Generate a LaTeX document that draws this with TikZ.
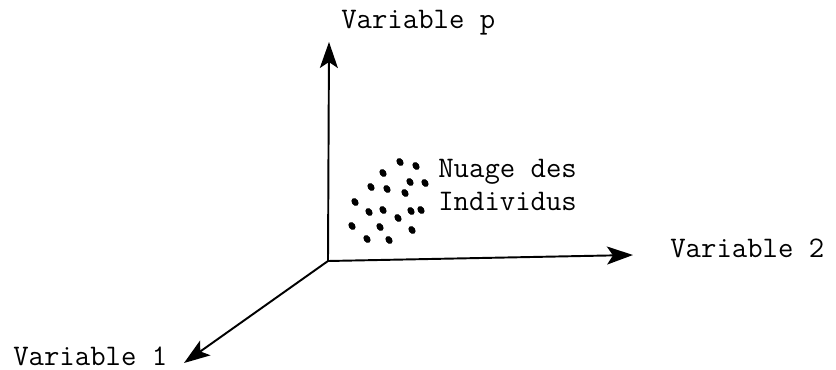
\documentclass[tikz,border=0pt]{standalone}
\usetikzlibrary{arrows.meta}
\tikzset{
  axis/.style   = {-{Stealth[length=5.2mm,width=3.6mm,inset=1.2mm]}, black,
                   line width=1.1pt},
  varlbl/.style = {font=\fontsize{17}{20}\selectfont\ttfamily, inner sep=0pt,
                   anchor=base west},
  grain/.style  = {fill=black},
}
\begin{document}
\begin{tikzpicture}[x=0.02cm, y=-0.02cm]
  \useasboundingbox (0,0) rectangle (836,369);

  %% ---------------- axes -------------------------------------------
  \coordinate (orig) at (328,261);
  \coordinate (tipP) at (329,42);
  \coordinate (tip2) at (633,255);
  \coordinate (tip1) at (184,363);
  \draw[axis] (orig) -- (tipP);
  \draw[axis] (orig) -- (tip2);
  \draw[axis] (orig) -- (tip1);

  %% ---------------- labels -----------------------------------------
  \node[varlbl] (varP) at (341,28)  {Variable p};
  \node[varlbl] (var2) at (670,257) {Variable 2};
  \node[varlbl] (var1) at (13,365)  {Variable 1};
  \node[varlbl] (nuage)  at (438,177) {Nuage des};
  \node[varlbl] (indiv)  at (438,210) {Individus};

  %% ---------------- cloud of individuals ---------------------------
  \foreach \x/\y in {400/162, 416/166, 383/173, 410/182, 425/183,
                     371/187, 387/189, 405/193, 355/202, 369/212,
                     383/210, 398/218, 411/211, 421/210, 352/226,
                     380/227, 412/230, 367/239, 389/240}
    \fill[grain, rotate around={35:(\x,\y)}] (\x,\y)
      ellipse [x radius=0.065cm, y radius=0.085cm];
\end{tikzpicture}
\end{document}
